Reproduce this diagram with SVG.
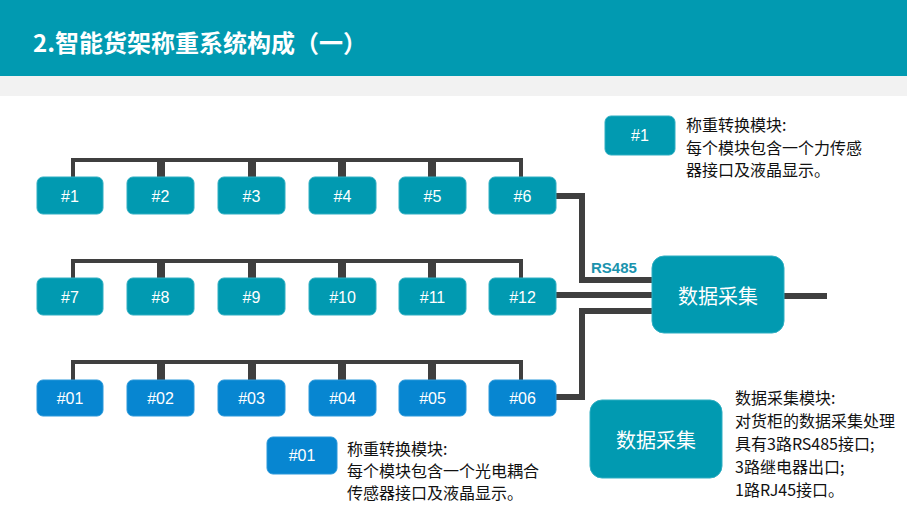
<svg xmlns="http://www.w3.org/2000/svg" width="907" height="510" viewBox="0 0 907 510">
<style>
.t{fill:#019AB1;stroke:#2FAEC2;stroke-width:1}
.b{fill:#0786D1;stroke:#2A98DA;stroke-width:1}
.lbl{font-family:"Liberation Sans",Arial,sans-serif;font-size:16px;fill:#fff;text-anchor:middle;dominant-baseline:central}
.cn{font-family:"Noto Sans CJK SC","Liberation Sans",sans-serif;fill:#fff;text-anchor:middle;dominant-baseline:central}
.desc{font-family:"Noto Sans CJK SC","Liberation Sans",sans-serif;font-size:16px;fill:#111}
.br{fill:none;stroke:#3F3F3F;stroke-width:4}
.bus{fill:none;stroke:#3F3F3F;stroke-width:6}
</style>
<rect x="0" y="0" width="907" height="76" fill="#019AB1"/>
<rect x="0" y="76" width="907" height="20" fill="#F2F2F2"/>
<text x="33" y="52" font-family="'Noto Sans CJK SC','Liberation Sans',sans-serif" font-size="24" font-weight="bold" fill="#fff">2.智能货架称重系统构成（一）</text>

<g id="connectors">
  <path class="br" d="M73,177V160H159V177M163,177V160H250V177M254,177V160H340V177M344,177V160H430V177M434,177V160H521V177"/>
  <path class="br" d="M73,278V261H159V278M163,278V261H250V278M254,278V261H340V278M344,278V261H430V278M434,278V261H521V278"/>
  <path class="br" d="M73,380V362H159V380M163,380V362H250V380M254,380V362H340V380M344,380V362H430V380M434,380V362H521V380"/>
  <path class="bus" d="M556,196H582V280H652"/>
  <path class="bus" d="M556,295H652"/>
  <path class="bus" d="M556,397H582V311H652"/>
  <path class="bus" d="M784,296H827" stroke-width="7"/>
  <text x="591" y="273" font-family="'Liberation Sans',Arial,sans-serif" font-size="15" font-weight="bold" fill="#1A93AE">RS485</text>
</g>

<g id="n1"><rect class="t" x="37" y="177" width="66" height="37" rx="6"/><text class="lbl" x="70" y="196">#1</text></g>
<g id="n2"><rect class="t" x="127" y="177" width="67" height="37" rx="6"/><text class="lbl" x="160.5" y="196">#2</text></g>
<g id="n3"><rect class="t" x="218" y="177" width="67" height="37" rx="6"/><text class="lbl" x="251.5" y="196">#3</text></g>
<g id="n4"><rect class="t" x="309" y="177" width="67" height="37" rx="6"/><text class="lbl" x="342.5" y="196">#4</text></g>
<g id="n5"><rect class="t" x="399" y="177" width="67" height="37" rx="6"/><text class="lbl" x="432.5" y="196">#5</text></g>
<g id="n6"><rect class="t" x="489" y="177" width="67" height="37" rx="6"/><text class="lbl" x="522.5" y="196">#6</text></g>

<g id="n7"><rect class="t" x="37" y="278" width="66" height="37" rx="6"/><text class="lbl" x="70" y="297">#7</text></g>
<g id="n8"><rect class="t" x="127" y="278" width="67" height="37" rx="6"/><text class="lbl" x="160.5" y="297">#8</text></g>
<g id="n9"><rect class="t" x="218" y="278" width="67" height="37" rx="6"/><text class="lbl" x="251.5" y="297">#9</text></g>
<g id="n10"><rect class="t" x="309" y="278" width="67" height="37" rx="6"/><text class="lbl" x="342.5" y="297">#10</text></g>
<g id="n11"><rect class="t" x="399" y="278" width="67" height="37" rx="6"/><text class="lbl" x="432.5" y="297">#11</text></g>
<g id="n12"><rect class="t" x="489" y="278" width="67" height="37" rx="6"/><text class="lbl" x="522.5" y="297">#12</text></g>

<g id="n01"><rect class="b" x="37" y="380" width="66" height="36" rx="6"/><text class="lbl" x="70" y="398">#01</text></g>
<g id="n02"><rect class="b" x="127" y="380" width="67" height="36" rx="6"/><text class="lbl" x="160.5" y="398">#02</text></g>
<g id="n03"><rect class="b" x="218" y="380" width="67" height="36" rx="6"/><text class="lbl" x="251.5" y="398">#03</text></g>
<g id="n04"><rect class="b" x="309" y="380" width="67" height="36" rx="6"/><text class="lbl" x="342.5" y="398">#04</text></g>
<g id="n05"><rect class="b" x="399" y="380" width="67" height="36" rx="6"/><text class="lbl" x="432.5" y="398">#05</text></g>
<g id="n06"><rect class="b" x="489" y="380" width="67" height="36" rx="6"/><text class="lbl" x="522.5" y="398">#06</text></g>

<g id="collector"><rect class="t" x="652" y="256" width="132" height="77" rx="12"/><text class="cn" x="718" y="295" font-size="20">数据采集</text></g>

<g id="legend1">
  <rect class="t" x="605" y="116" width="70" height="39" rx="6"/><text class="lbl" x="640" y="135.5">#1</text>
  <text class="desc" x="686" y="131">称重转换模块:</text>
  <text class="desc" x="686" y="154">每个模块包含一个力传感</text>
  <text class="desc" x="686" y="176">器接口及液晶显示。</text>
</g>
<g id="legend01">
  <rect class="b" x="267" y="437" width="70" height="37" rx="6"/><text class="lbl" x="302" y="455.5">#01</text>
  <text class="desc" x="347" y="455">称重转换模块:</text>
  <text class="desc" x="347" y="477">每个模块包含一个光电耦合</text>
  <text class="desc" x="347" y="499">传感器接口及液晶显示。</text>
</g>
<g id="legend-collector">
  <rect class="t" x="590" y="400" width="132" height="78" rx="12"/><text class="cn" x="656" y="439" font-size="20">数据采集</text>
  <text class="desc" x="735" y="404">数据采集模块:</text>
  <text class="desc" x="735" y="427">对货柜的数据采集处理</text>
  <text class="desc" x="735" y="450">具有3路RS485接口;</text>
  <text class="desc" x="735" y="473">3路继电器出口;</text>
  <text class="desc" x="735" y="496">1路RJ45接口。</text>
</g>
</svg>
